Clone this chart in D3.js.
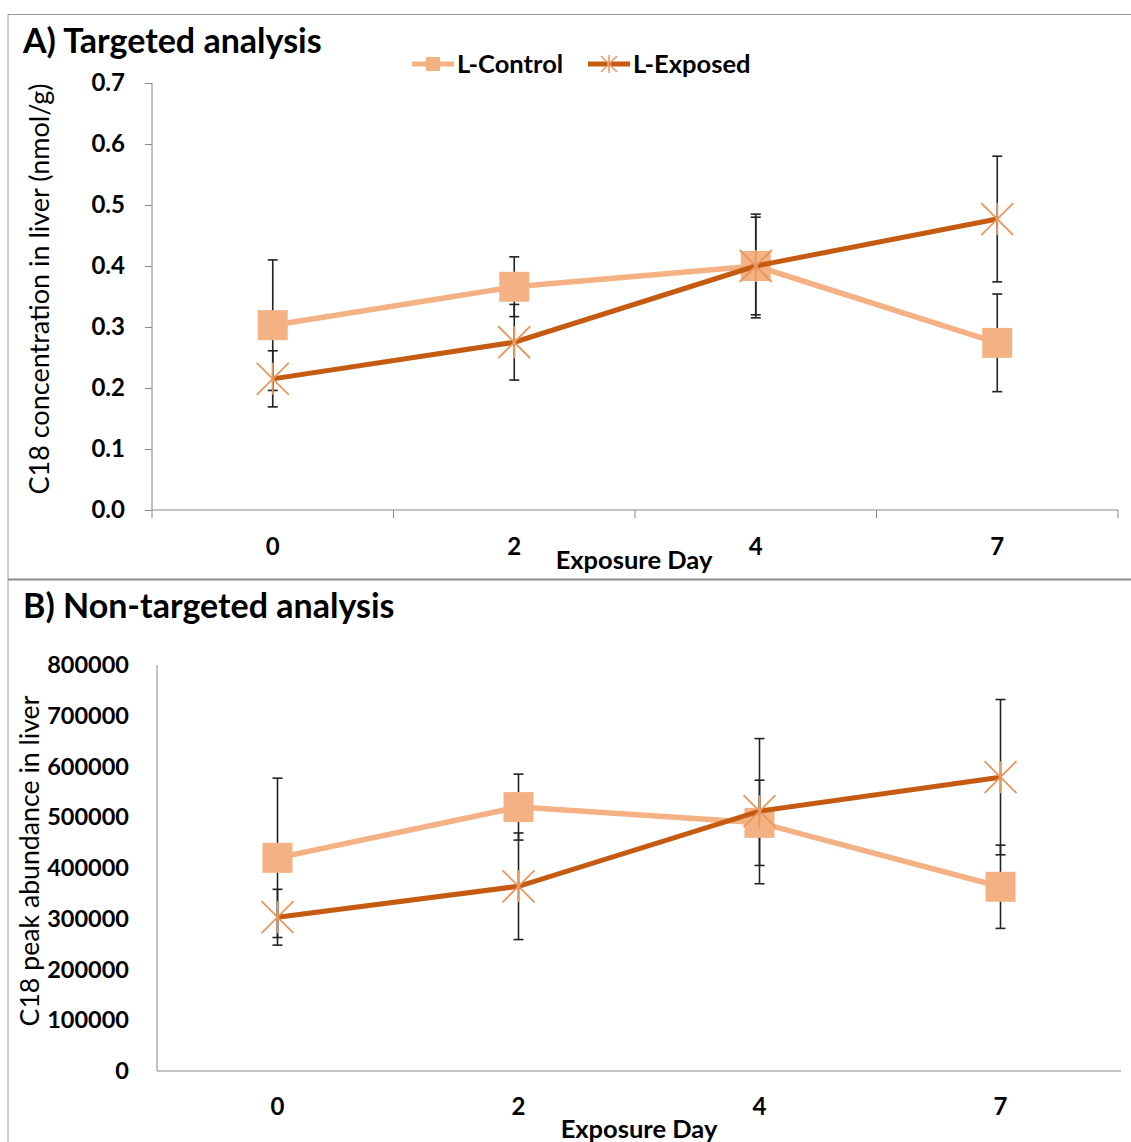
<!DOCTYPE html>
<html><head><meta charset="utf-8">
<script src="https://cdn.jsdelivr.net/npm/d3@7"></script>
<style>
body{margin:0;background:#fff;}
svg{display:block;font-family:Lato,"Open Sans",sans-serif;}
</style></head>
<body><svg id="c" width="1131" height="1142"></svg>
<script>
const days = ["0","2","4","7"];
const seriesNames = ["L-Control","L-Exposed"];
// Panel A: targeted (nmol/g)
const aControl = [0.303, 0.366, 0.400, 0.274];
const aControlErr = [0.107, 0.049, 0.085, 0.080];
const aExposed = [0.215, 0.275, 0.400, 0.477];
const aExposedErr = [0.046, 0.062, 0.080, 0.103];
const aTicks = [0,0.1,0.2,0.3,0.4,0.5,0.6,0.7];
// Panel B: non-targeted (peak abundance)
const bControl = [420000, 520000, 489000, 363000];
const bControlErr = [157000, 65000, 84000, 82000];
const bExposed = [303000, 364000, 512000, 579000];
const bExposedErr = [55000, 105000, 143000, 153000];
const bTicks = [0,100000,200000,300000,400000,500000,600000,700000,800000];

const cCol = "#F4B183", eCol = "#C55A11", starCol = "#E8975E";
const svg = d3.select("#c");

// panel frames
svg.append("path").attr("d","M8,1142 V14.5 H1131").attr("fill","none").attr("stroke","#9a9a9a").attr("stroke-width",1);
svg.append("line").attr("x1",8).attr("x2",1131).attr("y1",579.5).attr("y2",579.5).attr("stroke","#8a8a8a").attr("stroke-width",2);

function panel(o){
  const g = svg.append("g");
  const x = d3.scaleBand().domain(days).range([o.x0,o.x1]);
  const y = d3.scaleLinear().domain([0,o.ymax]).range([o.yb,o.yt]);
  // title
  g.append("text").attr("x",23).attr("y",o.titleY).attr("font-size",34).attr("font-weight","bold").text(o.title);
  // y axis
  const ya = d3.axisLeft(y).tickValues(o.ticks).tickFormat(o.fmt).tickSize(o.ytick).tickPadding(o.ypad);
  const yg = g.append("g").attr("transform",`translate(${o.x0},0)`).call(ya);
  yg.selectAll(".tick line").attr("stroke","#888");
  yg.selectAll("text").attr("font-size",o.tickFs).attr("font-weight","bold").attr("fill","#000").attr("font-family","Lato");
  yg.select(".domain").attr("stroke","#888").attr("d",`M0,${o.yt}V${o.yb}`);
  // x axis
  const xa = d3.axisBottom(x).tickSize(0).tickPadding(0);
  const xg = g.append("g").attr("transform",`translate(0,${o.yb})`).call(xa);
  xg.select(".domain").attr("stroke","#888").attr("d",`M${o.x0},0H${o.x1}`);
  xg.selectAll("text").attr("font-size",24).attr("font-weight","bold").attr("fill","#000").attr("font-family","Lato")
    .attr("dy",0).attr("y",o.xlabY);
  if(o.xticks){
    const b = [o.x0].concat(days.map(d=>x(d)+x.bandwidth()));
    xg.selectAll(".bt").data(b).enter().append("line").attr("x1",d=>d).attr("x2",d=>d).attr("y1",0).attr("y2",8).attr("stroke","#888");
  }
  g.append("text").attr("x",o.xtX).attr("y",o.xtY).attr("text-anchor","middle").attr("font-size",25.5).attr("font-weight","bold").text("Exposure Day");
  g.append("text").attr("transform",`translate(${o.ytX},${o.ytY}) rotate(-90)`).attr("text-anchor","middle").attr("font-size",o.ytFs).text(o.ytitle);

  const cx = d => x(d)+x.bandwidth()/2;
  const series = [
    {v:o.c, e:o.ce},
    {v:o.e, e:o.ee}
  ];
  // error bars
  series.forEach(s=>{
    const eb = g.append("g").attr("stroke","#222").attr("stroke-width",1.6);
    days.forEach((d,i)=>{
      const hi=y(s.v[i]+s.e[i]), lo=y(s.v[i]-s.e[i]);
      eb.append("line").attr("x1",cx(d)).attr("x2",cx(d)).attr("y1",hi).attr("y2",lo);
      eb.append("line").attr("x1",cx(d)-5).attr("x2",cx(d)+5).attr("y1",hi).attr("y2",hi);
      eb.append("line").attr("x1",cx(d)-5).attr("x2",cx(d)+5).attr("y1",lo).attr("y2",lo);
    });
  });
  const line = d3.line().x((v,i)=>cx(days[i])).y(v=>y(v));
  // control line + markers
  g.append("path").attr("d",line(o.c)).attr("fill","none").attr("stroke",cCol).attr("stroke-width",5.5);
  g.selectAll(".sq").data(o.c).enter().append("rect")
    .attr("x",(v,i)=>cx(days[i])-15).attr("y",v=>y(v)-15).attr("width",30).attr("height",30).attr("fill",cCol);
  // exposed line + markers
  g.append("path").attr("d",line(o.e)).attr("fill","none").attr("stroke",eCol).attr("stroke-width",5);
  o.e.forEach((v,i)=>{
    const px=cx(days[i]), py=y(v), r=16;
    g.append("path").attr("d",`M${px-r},${py-r}L${px+r},${py+r}M${px-r},${py+r}L${px+r},${py-r}M${px},${py-r}L${px},${py+r}`)
      .attr("stroke",starCol).attr("stroke-width",1.8).attr("fill","none");
  });
}

panel({title:"A) Targeted analysis", titleY:53, x0:152, x1:1118, yb:510, yt:83, ymax:0.7,
  ticks:aTicks, fmt:d3.format(".1f"), ytick:7, ypad:20, tickFs:24, xlabY:45, xticks:true,
  xtX:634, xtY:569, ytX:49, ytY:289, ytFs:27, ytitle:"C18 concentration in liver (nmol/g)",
  c:aControl, ce:aControlErr, e:aExposed, ee:aExposedErr});

panel({title:"B) Non-targeted analysis", titleY:618, x0:157, x1:1121, yb:1071, yt:665, ymax:800000,
  ticks:bTicks, fmt:d3.format("d"), ytick:0, ypad:28, tickFs:23.5, xlabY:44, xticks:false,
  xtX:639, xtY:1138, ytX:39, ytY:861, ytFs:26.7, ytitle:"C18 peak abundance in liver",
  c:bControl, ce:bControlErr, e:bExposed, ee:bExposedErr});

// legend
const lg = svg.append("g").attr("font-size",25.5).attr("font-weight","bold");
const legendItems = [{n:seriesNames[0], col:cCol, m:"sq", x:412},{n:seriesNames[1], col:eCol, m:"star", x:588}];
legendItems.forEach(it=>{
  lg.append("line").attr("x1",it.x).attr("x2",it.x+42).attr("y1",64).attr("y2",64).attr("stroke",it.col).attr("stroke-width",5);
  const mx = it.x+21;
  if(it.m==="sq") lg.append("rect").attr("x",mx-7).attr("y",57).attr("width",14).attr("height",14).attr("fill",it.col);
  else lg.append("path").attr("d",`M${mx-8},56L${mx+8},72M${mx-8},72L${mx+8},56M${mx},55L${mx},73`).attr("stroke",starCol).attr("stroke-width",1.5);
  lg.append("text").attr("x",it.x+45).attr("y",73).text(it.n);
});
</script></body></html>
